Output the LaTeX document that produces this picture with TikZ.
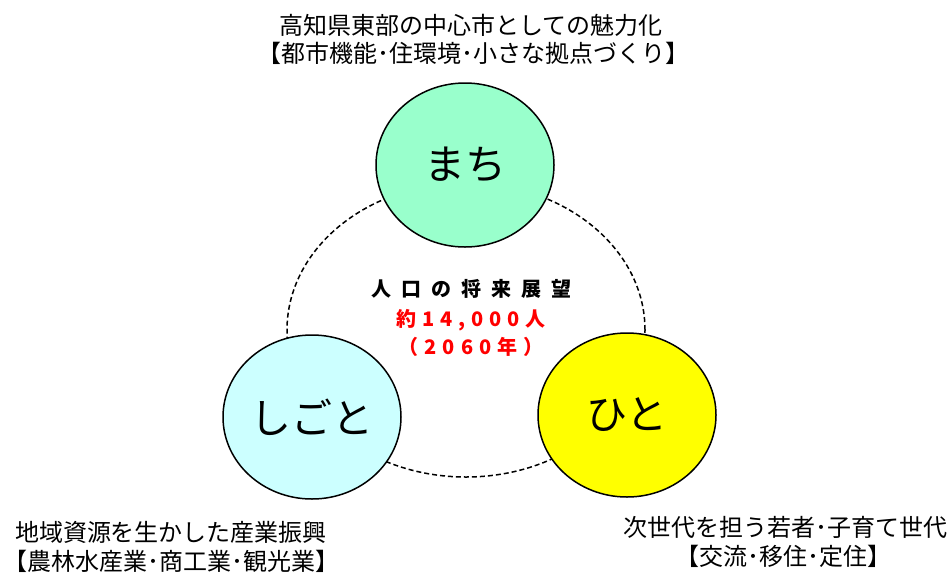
\documentclass[tikz,border=0pt]{standalone}
\usepackage{fontspec}
\setmainfont{Noto Sans CJK JP}
\usetikzlibrary{shapes.geometric}

\definecolor{machigreen}{HTML}{99FFCC}
\definecolor{shigotocyan}{HTML}{CCFFFF}
\definecolor{hitoyellow}{HTML}{FFFF00}

\newcommand{\gapA}{\kern10pt}
\newcommand{\gapB}{\kern6pt}

\begin{document}
\begin{tikzpicture}[x=1pt,y=-1pt]
\useasboundingbox (0,0) rectangle (950,574);

\node (core) at (466,330) [ellipse,draw=black,line width=1.5pt,dash pattern=on 5pt off 3pt,
    minimum width=358pt,minimum height=294pt] {};

\begin{scope}[every node/.style={ellipse,draw=black,line width=1.5pt,inner sep=0pt,
              minimum width=178pt,minimum height=164pt,font=\fontsize{41}{44}\selectfont}]
    \node (machi) at (465,165) [fill=machigreen] {まち};
    \node (shigoto) at (312,417) [fill=shigotocyan] {しごと};
    \node (hito) at (627,415) [fill=hitoyellow] {ひと};
\end{scope}

\begin{scope}[every node/.style={inner sep=0pt,font=\bfseries\fontsize{20}{22}\selectfont}]
    \node (title) at (471,289) {人\gapA 口\gapA の\gapA 将\gapA 来\gapA 展\gapA 望};
    \node (count) at (471,320) [text=red] {約\gapB 1\gapB 4\gapB ,\gapB 0\gapB 0\gapB 0\gapB 人};
    \node (year) at (471,347) [text=red] {（\gapB 2\gapB 0\gapB 6\gapB 0\gapB 年\gapB ）};
\end{scope}

\begin{scope}[every node/.style={inner sep=0pt,font=\fontsize{24}{26}\selectfont}]
    \node (machitop) at (471,25) {高知県東部の中心市としての魅力化};
    \node (machisub) at (473,53) {【都市機能･住環境･小さな拠点づくり】};

    \node (shigototop) at (171,532) {地域資源を生かした産業振興};
    \node (shigotosub) at (172,561) {【農林水産業･商工業･観光業】};

    \node (hitotop) at (785,527) {次世代を担う若者･子育て世代};
    \node (hitosub) at (783,556) {【交流･移住･定住】};
\end{scope}
\end{tikzpicture}
\end{document}
